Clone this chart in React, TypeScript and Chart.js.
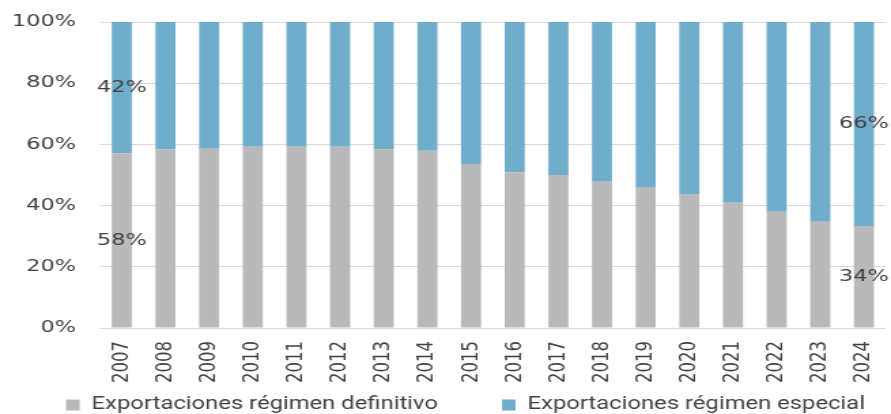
import { useEffect, useRef } from "react";
import { Chart, registerables } from "chart.js";

Chart.register(...registerables);

const years = [
  "2007", "2008", "2009", "2010", "2011", "2012", "2013", "2014", "2015",
  "2016", "2017", "2018", "2019", "2020", "2021", "2022", "2023", "2024",
];
const definitivo = [
  57.1, 58.3, 58.6, 59.2, 59.2, 59.2, 58.3, 57.9, 53.6,
  50.9, 50.0, 47.8, 45.8, 43.8, 40.9, 38.0, 34.7, 33.3,
];
const especial = [
  42.9, 41.7, 41.4, 40.8, 40.8, 40.8, 41.7, 42.1, 46.4,
  49.1, 50.0, 52.2, 54.2, 56.2, 59.1, 62.0, 65.3, 66.7,
];
const seriesNames = ["Exportaciones régimen definitivo", "Exportaciones régimen especial"];
const seriesColors = ["#b9b9b9", "#70adca"];
const segmentLabelText = ["42%", "58%", "66%", "34%"];
const segmentLabelSeries = [1, 0, 1, 0];
const segmentLabelYear = ["2007", "2007", "2024", "2024"];

const W = 655;
const H = 414;
const TICK_FONT = "'DejaVu Sans'";
const LEGEND_FONT = "Roboto";
const TEXT = "#404040";
const TICK_SIZE = 16.5;
const LEGEND_SIZE = 17.5;
const LEGEND_GAP = "         ";

const segLabels = {
  id: "segLabels",
  afterDatasetsDraw(chart: any) {
    const ctx = chart.ctx;
    ctx.save();
    ctx.font = `${TICK_SIZE}px ${TICK_FONT}`;
    ctx.fillStyle = TEXT;
    ctx.textAlign = "center";
    ctx.textBaseline = "middle";
    segmentLabelText.forEach((t, i) => {
      const idx = years.indexOf(segmentLabelYear[i]);
      const el = chart.getDatasetMeta(segmentLabelSeries[i]).data[idx];
      const { x, y, base } = el.getProps(["x", "y", "base"], true);
      ctx.fillText(t, x, (y + base) / 2);
    });
    ctx.restore();
  },
};

export default function App() {
  const ref = useRef<HTMLCanvasElement>(null);
  useEffect(() => {
    if (!ref.current) return;
    const chart = new Chart(ref.current, {
      type: "bar",
      data: {
        labels: years,
        datasets: [
          { label: seriesNames[0], data: definitivo, backgroundColor: seriesColors[0], barPercentage: 0.46, categoryPercentage: 1 },
          { label: seriesNames[1], data: especial, backgroundColor: seriesColors[1], barPercentage: 0.46, categoryPercentage: 1 },
        ],
      },
      options: {
        animation: false,
        responsive: false,
        devicePixelRatio: 1,
        layout: { padding: { left: 33, right: 3.5, top: 22, bottom: 0 } },
        plugins: {
          tooltip: { enabled: false },
          legend: {
            position: "bottom",
            maxHeight: 25.75,
            labels: {
              boxWidth: 10,
              boxHeight: 11,
              padding: 8,
              color: TEXT,
              font: { family: LEGEND_FONT, size: LEGEND_SIZE },
              generateLabels: (c: any) => {
                const items = Chart.defaults.plugins.legend.labels.generateLabels(c);
                items.forEach((it: any, i: number) => {
                  if (i === 0) it.text = it.text + LEGEND_GAP;
                });
                return items;
              },
            },
          },
        },
        scales: {
          x: {
            stacked: true,
            grid: {
              display: true,
              drawOnChartArea: false,
              drawTicks: true,
              tickLength: 13,
              color: "rgba(0,0,0,0)",
              tickColor: "rgba(0,0,0,0)",
            },
            border: { display: false },
            ticks: {
              color: TEXT,
              font: { family: TICK_FONT, size: TICK_SIZE },
              minRotation: 90,
              maxRotation: 90,
              autoSkip: false,
              padding: 0,
            },
            afterFit: (s: any) => {
              s.height = 60.25;
              s._computeLabelArea = () => undefined;
            },
          },
          y: {
            stacked: true,
            min: 0,
            max: 100,
            grid: {
              color: "#d9d9d9",
              drawTicks: true,
              tickLength: 17.6,
              tickColor: "rgba(0,0,0,0)",
            },
            border: { display: false },
            ticks: {
              stepSize: 20,
              color: TEXT,
              font: { family: TICK_FONT, size: TICK_SIZE },
              padding: 0,
              callback: (v: any) => `${v}%`,
            },
            afterFit: (s: any) => {
              s.width = 40.5;
              s._computeLabelArea = () => undefined;
            },
          },
        },
      },
      plugins: [segLabels],
    });
    return () => chart.destroy();
  }, []);
  return (
    <div style={{ position: "absolute", left: 0, top: 0, width: "891px", height: "414px" }}>
      <canvas
        ref={ref}
        width={W}
        height={H}
        style={{ width: "891px", height: "414px", display: "block" }}
      />
    </div>
  );
}
